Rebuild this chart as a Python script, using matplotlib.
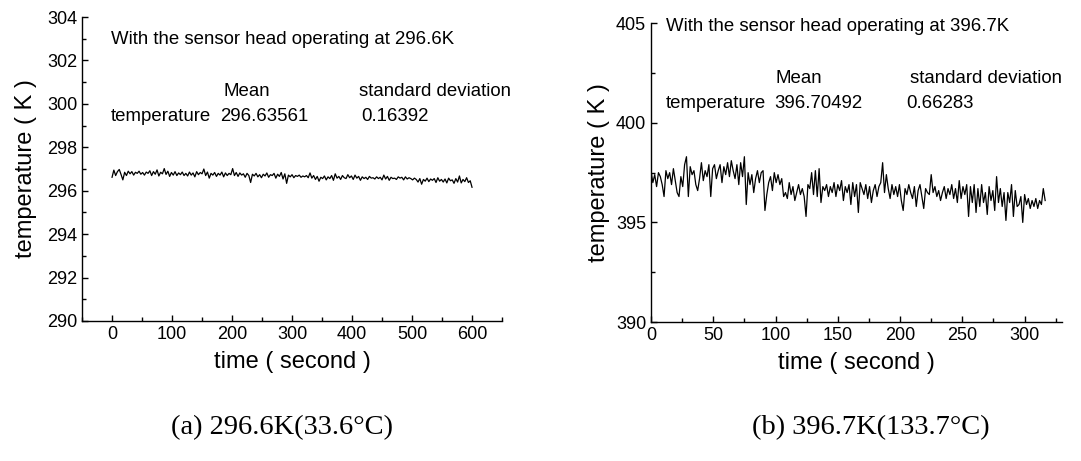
import numpy as np
import matplotlib
matplotlib.use('Agg')
import matplotlib.pyplot as plt
from matplotlib.ticker import MultipleLocator

plt.rcParams['font.family'] = ['Liberation Sans', 'DejaVu Sans']

# (a) sensor head at 296.6 K, one reading every 3 s
step_a = 3
temp_a = [
    296.62, 296.95, 296.70, 296.88, 296.98, 296.75, 296.50, 296.85, 296.70, 296.90,
    296.78, 296.88, 296.72, 296.85, 296.80, 296.90, 296.76, 296.84, 296.72, 296.86,
    296.80, 296.92, 296.70, 296.88, 296.76, 296.96, 296.68, 296.85, 296.78, 297.02,
    296.75, 296.90, 296.66, 296.84, 296.72, 296.88, 296.70, 296.82, 296.74, 296.86,
    296.70, 296.80, 296.68, 296.86, 296.72, 296.82, 296.64, 296.88, 296.74, 296.84,
    296.78, 297.00, 296.70, 296.86, 296.58, 296.80, 296.72, 296.84, 296.66, 296.80,
    296.72, 296.86, 296.64, 296.82, 296.70, 296.80, 296.74, 297.02, 296.70, 296.84,
    296.66, 296.82, 296.72, 296.78, 296.62, 296.80, 296.70, 296.38, 296.76, 296.68,
    296.80, 296.64, 296.74, 296.60, 296.76, 296.68, 296.82, 296.62, 296.74, 296.70,
    296.80, 296.58, 296.76, 296.66, 296.84, 296.54, 296.78, 296.34, 296.72, 296.64,
    296.74, 296.60, 296.70, 296.66, 296.72, 296.62, 296.68, 296.64, 296.70, 296.60,
    296.82, 296.58, 296.70, 296.52, 296.66, 296.44, 296.62, 296.56, 296.68, 296.50,
    296.64, 296.56, 296.70, 296.48, 296.78, 296.58, 296.66, 296.52, 296.70, 296.60,
    296.56, 296.74, 296.60, 296.68, 296.52, 296.72, 296.58, 296.66, 296.48, 296.64,
    296.56, 296.62, 296.52, 296.66, 296.58, 296.60, 296.54, 296.64, 296.56, 296.62,
    296.50, 296.72, 296.54, 296.66, 296.48, 296.62, 296.56, 296.58, 296.52, 296.64,
    296.58, 296.62, 296.50, 296.64, 296.54, 296.60, 296.56, 296.50, 296.58, 296.52,
    296.40, 296.56, 296.30, 296.52, 296.44, 296.58, 296.42, 296.54, 296.48, 296.56,
    296.38, 296.60, 296.44, 296.52, 296.40, 296.54, 296.36, 296.58, 296.46, 296.50,
    296.34, 296.56, 296.40, 296.68, 296.36, 296.52, 296.42, 296.60, 296.38, 296.46,
    296.16,
]

# (b) sensor head at 396.7 K, one reading every 1.5 s
step_b = 1.5
temp_b = [
    397.6, 397.0, 397.4, 396.8, 397.5, 397.3, 396.9, 396.3, 397.6, 397.2,
    397.5, 396.9, 397.7, 397.1, 396.5, 396.3, 397.3, 396.8, 397.9, 398.3,
    396.3, 397.8, 397.4, 397.6, 396.9, 396.6, 397.2, 398.0, 397.1, 397.6,
    397.3, 397.9, 396.3, 397.7, 397.9, 397.2, 397.6, 397.9, 397.0, 397.8,
    397.4, 398.0, 397.3, 398.1, 397.6, 397.2, 397.9, 396.9, 398.0, 397.3,
    398.3, 395.9, 397.5, 396.9, 397.4, 396.5, 397.2, 397.6, 397.0, 397.5,
    397.6, 395.6, 396.4, 397.0, 397.3, 396.6, 397.5, 397.0, 397.4, 396.9,
    397.2, 396.3, 396.5, 396.2, 397.0, 396.4, 396.8, 396.1, 396.5, 396.9,
    396.4, 396.7, 396.3, 395.3, 396.9, 396.7, 397.5, 396.4, 397.6, 396.3,
    397.7, 396.0, 396.8, 396.6, 396.9, 396.3, 396.8, 396.5, 397.0, 396.3,
    396.9, 396.6, 397.1, 396.1, 396.8, 396.5, 396.9, 395.9, 397.0, 396.3,
    396.9, 395.5, 397.0, 396.7, 396.4, 396.9, 396.2, 396.8, 396.0, 396.6,
    396.9, 396.3, 396.8, 397.0, 398.0, 396.5, 397.4, 396.7, 396.2, 396.9,
    396.4, 396.8, 396.3, 396.9, 396.1, 395.6, 396.7, 396.4, 396.9, 396.5,
    396.2, 396.8, 395.8, 396.6, 396.9, 396.3, 395.7, 396.7, 396.5, 396.4,
    397.4, 396.5, 396.8, 396.3, 396.6, 396.1, 396.5, 396.8, 396.2, 396.7,
    396.4, 396.9, 396.2, 396.7, 396.0, 397.1, 396.2, 396.8, 396.4, 396.9,
    395.3, 396.8, 396.0, 396.9, 395.5, 396.7, 395.8, 396.9, 396.0, 396.5,
    395.4, 396.8, 396.1, 396.6, 395.6, 397.3, 396.0, 396.7, 395.8, 396.5,
    395.1, 396.5, 396.0, 396.9, 395.3, 396.6, 395.8, 395.9, 396.3, 395.0,
    396.4, 395.9, 396.2, 395.7, 396.1, 395.8, 396.2, 395.7, 396.1, 395.9,
    396.7, 396.1,
]

stats_a = ('296.63561', '0.16392')
stats_b = ('396.70492', '0.66283')
captions = ['(a) 296.6K(33.6\u00b0C)', '(b) 396.7K(133.7\u00b0C)']

t_a = np.arange(len(temp_a)) * step_a
t_b = np.arange(len(temp_b)) * step_b

fig = plt.figure(figsize=(10.81, 4.61), dpi=100)
ax1 = fig.add_axes([0.0759, 0.3037, 0.3885, 0.6593])
ax2 = fig.add_axes([0.6022, 0.3015, 0.3802, 0.6480])


def style(ax, ypad):
    for s in ['top', 'right']:
        ax.spines[s].set_visible(False)
    for s in ['left', 'bottom']:
        ax.spines[s].set_linewidth(1.0)
    ax.tick_params(which='both', direction='in', labelsize=13, width=1.0)
    ax.tick_params(which='major', length=4.5)
    ax.tick_params(which='minor', length=3)
    ax.set_xlabel('time ( second )', fontsize=17, labelpad=6)
    ax.set_ylabel('temperature ( K )', fontsize=17, labelpad=ypad)


# left panel
ax1.plot(t_a, temp_a, color='black', lw=0.9)
ax1.set_xlim(-50, 650)
ax1.set_ylim(290, 304)
ax1.xaxis.set_major_locator(MultipleLocator(100))
ax1.xaxis.set_minor_locator(MultipleLocator(50))
ax1.yaxis.set_major_locator(MultipleLocator(2))
ax1.yaxis.set_minor_locator(MultipleLocator(1))
ax1.set_xticks(range(0, 601, 100))
style(ax1, 7.5)
kw = dict(fontsize=13.4, va='center')
ax1.text(-2, 302.95, 'With the sensor head operating at 296.6K', **kw)
ax1.text(185, 300.56, 'Mean', **kw)
ax1.text(412, 300.56, 'standard deviation', **kw)
ax1.text(-2, 299.40, 'temperature', **kw)
ax1.text(180, 299.40, stats_a[0], **kw)
ax1.text(415, 299.40, stats_a[1], **kw)

# right panel
ax2.plot(t_b, temp_b, color='black', lw=0.9)
ax2.set_xlim(0, 330)
ax2.set_ylim(390, 405)
ax2.xaxis.set_major_locator(MultipleLocator(50))
ax2.xaxis.set_minor_locator(MultipleLocator(25))
ax2.yaxis.set_major_locator(MultipleLocator(5))
ax2.yaxis.set_minor_locator(MultipleLocator(2.5))
ax2.set_xticks(range(0, 301, 50))
style(ax2, 4)
ax2.text(12, 404.83, 'With the sensor head operating at 396.7K', **kw)
ax2.text(100, 402.24, 'Mean', **kw)
ax2.text(207.7, 402.24, 'standard deviation', **kw)
ax2.text(12, 400.95, 'temperature', **kw)
ax2.text(98.9, 400.95, stats_b[0], **kw)
ax2.text(205, 400.95, stats_b[1], **kw)

fig.text(282 / 1081, 1 - 428 / 461, captions[0], ha='center', va='center',
         fontsize=20.5, family='Liberation Serif')
fig.text(871 / 1081, 1 - 428 / 461, captions[1], ha='center', va='center',
         fontsize=20.5, family='Liberation Serif')

fig.savefig('out.png', dpi=100)
